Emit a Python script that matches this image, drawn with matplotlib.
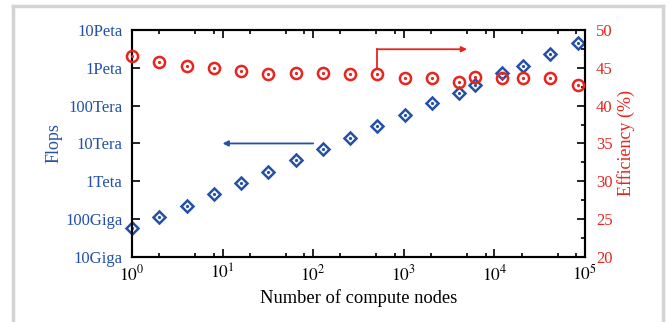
import matplotlib
matplotlib.use("Agg")
import matplotlib.pyplot as plt
from matplotlib.lines import Line2D
from matplotlib.ticker import FixedLocator, NullFormatter

BLUE = "#2450a6"
RED = "#e8241e"

# compute nodes
nodes = [1, 2, 4, 8, 16, 32, 64, 128, 256, 512, 1024, 2048, 4096,
         6144, 12288, 20480, 40960, 82944]
flops = [5.7e10, 1.14e11, 2.27e11, 4.54e11, 9.0e11, 1.8e12, 3.66e12,
         7.2e12, 1.43e13, 2.9e13, 5.7e13, 1.16e14, 2.16e14, 3.46e14,
         7.2e14, 1.14e15, 2.32e15, 4.62e15]
efficiency = [46.6, 45.7, 45.3, 45.0, 44.6, 44.15, 44.3, 44.3, 44.2,
              44.15, 43.65, 43.7, 43.15, 43.8, 43.65, 43.65, 43.65, 42.75]

flops_ticks = [1e10, 1e11, 1e12, 1e13, 1e14, 1e15, 1e16]
flops_labels = ["10Giga", "100Giga", "1Teta", "10Tera", "100Tera", "1Peta", "10Peta"]
eff_ticks = [20, 25, 30, 35, 40, 45, 50]

plt.rcParams["font.family"] = "Liberation Serif"
plt.rcParams["mathtext.fontset"] = "stix"

fig = plt.figure(figsize=(6.7, 3.22), dpi=100)
ax = fig.add_axes([0.197, 0.202, 0.676, 0.705])
ax2 = ax.twinx()

ax.set_xscale("log")
ax.set_yscale("log")
ax.set_xlim(1, 1e5)
ax.set_ylim(1e10, 1e16)
ax2.set_ylim(20, 50)

ax.plot(nodes, flops, ls="none", marker="D", ms=6.3, mfc="none", mec=BLUE,
        mew=1.8, clip_on=False, zorder=3)
ax.plot(nodes, flops, ls="none", marker="o", ms=1.3, color=BLUE,
        clip_on=False, zorder=3)
ax2.plot(nodes, efficiency, ls="none", marker="o", ms=8, mfc="none", mec=RED,
         mew=1.8, clip_on=False, zorder=3)
ax2.plot(nodes, efficiency, ls="none", marker="o", ms=1.3, color=RED,
         clip_on=False, zorder=3)

# arrows
ax.annotate("", xy=(10, 1e13), xytext=(100, 1e13),
            arrowprops=dict(arrowstyle="-|>", color=BLUE, lw=1.3,
                            mutation_scale=8, shrinkA=0, shrinkB=0))
ax2.plot([512, 512], [45.0, 47.45], color=RED, lw=1.3)
ax2.annotate("", xy=(5000, 47.45), xytext=(512, 47.45),
             arrowprops=dict(arrowstyle="-|>", color=RED, lw=1.3,
                             mutation_scale=8, shrinkA=0, shrinkB=0))

# x ticks
ax.xaxis.set_major_locator(FixedLocator([1, 10, 100, 1e3, 1e4, 1e5]))
ax.set_xticklabels([r"$10^{%d}$" % i for i in range(6)])
minors = [m * 10 ** d for d in range(5) for m in (2, 5, 8)]
ax.xaxis.set_minor_locator(FixedLocator(minors))
ax.xaxis.set_minor_formatter(NullFormatter())
ax.tick_params(axis="x", which="both", direction="in", top=True,
               labelsize=12.5, pad=5)
ax.tick_params(axis="x", which="major", length=6, width=1.2)
ax.tick_params(axis="x", which="minor", length=3, width=1.2)

# left y ticks
ax.set_yticks(flops_ticks)
ax.set_yticklabels(flops_labels)
ax.yaxis.set_minor_locator(FixedLocator([]))
ax.tick_params(axis="y", which="major", direction="in", length=6, width=1.2,
               labelsize=12, labelcolor=BLUE, pad=7, right=False)

# right y ticks
ax2.set_yticks(eff_ticks)
ax2.yaxis.set_minor_locator(FixedLocator([22.5, 27.5, 32.5, 37.5, 42.5, 47.5]))
ax2.tick_params(axis="y", which="major", direction="in", length=6, width=1.2,
                labelsize=12, labelcolor=RED, pad=8)
ax2.tick_params(axis="y", which="minor", direction="in", length=3, width=1.2)

for a in (ax, ax2):
    for s in a.spines.values():
        s.set_linewidth(1.5)

ax.set_xlabel("Number of compute nodes", fontsize=13.3, labelpad=4)
ax.set_ylabel("Flops", fontsize=13, color=BLUE, labelpad=2)
ax2.set_ylabel("Efficiency (%)", fontsize=13, color=RED, labelpad=3)

# light gray frame around the figure
gray = "#d4d4d4"
fig.add_artist(Line2D([13 / 670, 13 / 670], [0, 1 - 6 / 322], color=gray, lw=2.5,
                      transform=fig.transFigure))
fig.add_artist(Line2D([13 / 670, 663 / 670], [1 - 6 / 322, 1 - 6 / 322], color=gray,
                      lw=2.5, transform=fig.transFigure))
fig.add_artist(Line2D([663 / 670, 663 / 670], [0, 1 - 6 / 322], color=gray, lw=2.5,
                      transform=fig.transFigure))

fig.savefig("out.png", dpi=100)
